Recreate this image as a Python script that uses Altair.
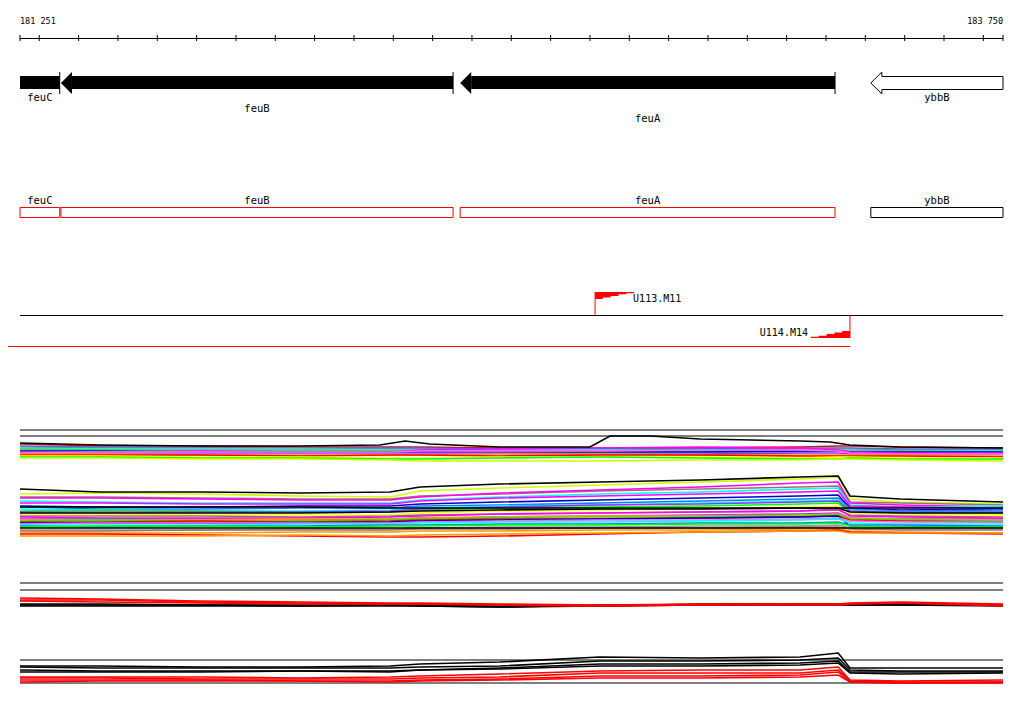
import altair as alt
import pandas as pd

# ---------------- data ----------------
X0, X1 = 181251, 183750
RULER_TEXT = ["181 251", "183 750"]
RULER_POS = [181251, 183750]
TICK_POS = [181251, 181300, 181400, 181500, 181600, 181700, 181800, 181900, 182000,
            182100, 182200, 182300, 182400, 182500, 182600, 182700, 182800, 182900,
            183000, 183100, 183200, 183300, 183400, 183500, 183600, 183700, 183750]

GENE_NAME = ["feuC", "feuB", "feuA", "ybbB"]
GENE_LEFT = [181251, 181355, 182370, 183414]
GENE_RIGHT = [181352, 182352, 183323, 183750]
GENE_HAS_TIP = [False, True, True, True]
GENE_SOLID = [True, True, True, False]
GENE_LABEL_ROW = [0, 1, 2, 0]

PROM_NAME = ["U113.M11", "U114.M14"]
PROM_POS = [182713, 183361]
TRANSCRIPT = [181150, 183361]

# probe positions (bp)
GRID = [181251, 181454, 181709, 181963, 182192, 182268, 182471, 182725,
        182980, 183234, 183331, 183361, 183488, 183750]

# panel 1, upper cluster: leading profile
P1_TOP_X = [181251, 181454, 181709, 181963, 182166, 182230, 182293, 182471, 182700,
            182751, 182853, 182980, 183234, 183310, 183361, 183488, 183750]
P1_TOP_V = [97, 95, 94, 94, 95, 99, 96, 93, 93, 104, 104, 101, 99, 98, 95, 93, 92]

P1_UPPER_V = [
    [96, 94, 94, 93, 93, 93, 92, 92, 92, 93, 94, 94, 93, 92],
    [94, 93, 93, 92, 92, 92, 91, 91, 91, 92, 92, 92, 91, 91],
    [93, 92, 92, 92, 91, 91, 90, 90, 90, 91, 91, 91, 90, 90],
    [92, 91, 91, 91, 90, 90, 90, 90, 89, 89, 90, 90, 89, 89],
    [91, 90, 90, 90, 89, 89, 89, 89, 89, 89, 90, 89, 89, 88],
    [90, 90, 89, 89, 89, 88, 88, 88, 88, 88, 89, 88, 88, 87],
    [89, 89, 88, 88, 88, 88, 88, 88, 88, 89, 89, 88, 88, 88],
    [88, 88, 89, 88, 88, 90, 91, 92, 93, 92, 90, 88, 87, 87],
    [87, 87, 87, 87, 87, 87, 87, 86, 86, 87, 87, 86, 86, 86],
    [87, 88, 88, 88, 88, 89, 89, 89, 90, 90, 89, 87, 86, 86],
    [86, 86, 85, 85, 85, 85, 86, 86, 85, 85, 85, 85, 85, 84],
    [85, 85, 85, 84, 85, 85, 84, 85, 85, 84, 84, 84, 84, 83],
    [84, 84, 83, 83, 82, 82, 83, 83, 83, 82, 83, 83, 82, 82],
    [83, 83, 82, 82, 81, 81, 82, 83, 82, 81, 81, 82, 81, 81],
    [82, 82, 81, 81, 80, 79, 79, 79, 80, 80, 81, 81, 80, 79],
]
P1_LOWER_V = [
    [46, 47, 46, 44, 43, 49, 52, 55, 58, 61, 63, 41, 38, 36],
    [43, 43, 42, 41, 41, 44, 46, 49, 51, 53, 54, 38, 37, 35],
    [42, 42, 41, 40, 40, 43, 47, 50, 53, 57, 58, 37, 35, 33],
    [39, 38, 37, 37, 37, 40, 43, 46, 48, 51, 52, 35, 33, 34],
    [37, 37, 36, 36, 36, 39, 42, 44, 46, 48, 49, 34, 33, 32],
    [34, 33, 33, 34, 34, 36, 38, 40, 42, 44, 45, 32, 30, 31],
    [33, 31, 31, 32, 32, 34, 35, 37, 39, 41, 42, 31, 29, 30],
    [31, 30, 29, 29, 30, 32, 34, 35, 37, 39, 40, 30, 28, 28],
    [29, 30, 29, 28, 28, 30, 32, 33, 34, 36, 37, 28, 27, 27],
    [28, 28, 28, 28, 29, 31, 33, 35, 36, 38, 39, 29, 28, 28],
    [26, 26, 25, 25, 25, 27, 29, 30, 31, 33, 34, 27, 26, 25],
    [24, 24, 24, 23, 24, 25, 26, 27, 28, 29, 30, 25, 24, 23],
    [23, 22, 22, 22, 23, 24, 26, 27, 28, 29, 31, 24, 23, 22],
    [21, 21, 21, 20, 21, 22, 23, 24, 25, 26, 27, 22, 21, 21],
    [20, 20, 20, 21, 21, 22, 23, 24, 24, 25, 26, 22, 21, 20],
    [19, 20, 19, 19, 20, 21, 22, 22, 23, 24, 25, 21, 20, 19],
    [18, 18, 19, 18, 19, 20, 21, 21, 22, 23, 24, 20, 19, 18],
    [17, 17, 17, 17, 18, 19, 20, 21, 22, 23, 24, 14, 13, 13],
    [16, 17, 17, 17, 17, 18, 19, 20, 20, 21, 22, 19, 18, 18],
    [15, 15, 15, 16, 16, 17, 18, 18, 19, 20, 21, 17, 16, 16],
    [14, 13, 14, 14, 15, 15, 16, 16, 17, 17, 18, 15, 15, 14],
    [13, 14, 14, 13, 14, 14, 15, 15, 16, 16, 17, 14, 13, 13],
    [10, 10, 10, 11, 11, 12, 13, 13, 14, 14, 15, 12, 11, 11],
    [9, 9, 10, 10, 10, 11, 11, 12, 12, 13, 13, 11, 10, 10],
    [8, 7, 7, 8, 8, 9, 9, 10, 10, 11, 11, 9, 8, 7],
    [6, 6, 5, 4, 3, 3, 4, 6, 8, 9, 10, 8, 7, 6],
    [4, 4, 4, 5, 4, 5, 6, 7, 8, 9, 9, 7, 7, 7],
]
P1_LOWER_BLACK_V = [
    [51, 48, 48, 47, 48, 53, 56, 58, 60, 63, 64, 44, 41, 38],
    [33, 33, 33, 33, 32, 32, 32, 32, 32, 32, 32, 32, 32, 32],
    [27, 27, 27, 27, 28, 29, 30, 31, 31, 32, 32, 28, 27, 27],
    [12, 12, 12, 12, 12, 12, 12, 12, 12, 12, 12, 12, 12, 12],
]
P1_FRAME = [110, 104]

P2_UPPER_BLACK_V = [
    [89, 89, 88, 88, 88, 88, 87, 87, 89, 89, 89, 89, 89, 88],
    [88, 88, 88, 87, 88, 87, 86, 88, 88, 89, 89, 88, 88, 87],
    [87, 87, 87, 87, 87, 87, 86, 87, 88, 88, 88, 88, 88, 88],
]
P2_UPPER_RED_V = [
    [95, 94, 92, 91, 90, 90, 89, 88, 89, 89, 89, 90, 91, 89],
    [93, 93, 91, 90, 89, 89, 88, 87, 88, 89, 89, 89, 90, 88],
    [92, 91, 90, 89, 89, 89, 88, 87, 88, 88, 88, 89, 90, 87],
]
P2_LOWER_BLACK_V = [
    [27, 27, 26, 26, 27, 29, 31, 36, 35, 36, 40, 25, 25, 25],
    [26, 25, 25, 25, 25, 26, 27, 32, 32, 33, 35, 23, 22, 22],
    [23, 22, 22, 22, 21, 23, 25, 29, 29, 30, 32, 21, 21, 21],
    [21, 21, 21, 22, 22, 23, 24, 27, 27, 28, 30, 20, 19, 20],
]
P2_LOWER_RED_V = [
    [16, 16, 16, 15, 16, 17, 19, 22, 23, 23, 26, 13, 12, 13],
    [15, 15, 14, 14, 14, 15, 16, 20, 20, 20, 23, 12, 11, 11],
    [13, 13, 13, 12, 12, 13, 14, 17, 17, 18, 21, 11, 10, 11],
    [11, 12, 12, 12, 11, 12, 13, 15, 15, 16, 18, 11, 10, 10],
]
P2_FRAME = [110, 103, 33, 10]

# ---------------- styles ----------------
RED, BLK = "#ff0000", "#000000"
P1_UPPER_COL = ["#ff0000", "#0080ff", "#a07070", "#00ffff", "#999999", "#00ff00",
                "#0000cc", "#ff00ff", "#9933ff", "#ff66ff", "#ff9900", "#ff0000",
                "#ffff00", "#00ff00", "#ccff00"]
P1_LOWER_COL = ["#ccff00", "#a07070", "#ff00ff", "#00ffff", "#ff00ff", "#0000cc",
                "#0080ff", "#00ffff", "#00ff00", "#9933ff", "#ffff00", "#a07070",
                "#ff00ff", "#9933ff", "#ff9900", "#00ff00", "#ff0000", "#0000cc",
                "#ff66ff", "#00ffff", "#0080ff", "#00ff00", "#999999", "#a07070",
                "#ff9900", "#ff0000", "#ff9900"]
MONO = "DejaVu Sans Mono"
BP_PER_PX = (X1 - X0) / 983.0
HEAD_BP = round(11 * BP_PER_PX)

XS = alt.Scale(domain=[X0, X1], range=[12, 995], nice=False, zero=False)
S1 = alt.Scale(domain=[0, 110], range=[532, 422], nice=False, zero=False)
S2 = alt.Scale(domain=[0, 110], range=[685, 575], nice=False, zero=False)

def X(f):
    return alt.X(f, type="quantitative", scale=XS, axis=None)

# ---------------- tables ----------------
line_rows = []
counter = [0]

def add_series(panel, layer, color, xs, vals):
    counter[0] += 1
    sid = "s%03d" % counter[0]
    for bp, v in zip(xs, vals):
        line_rows.append({"panel": panel, "layer": layer, "sid": sid,
                          "color": color, "bp": bp, "v": v})

for c, vals in zip(P1_UPPER_COL, P1_UPPER_V):
    add_series(1, 0, c, GRID, vals)
for c, vals in zip(P1_LOWER_COL, P1_LOWER_V):
    add_series(1, 0, c, GRID, vals)
add_series(1, 1, BLK, P1_TOP_X, P1_TOP_V)
for vals in P1_LOWER_BLACK_V:
    add_series(1, 1, BLK, GRID, vals)
for vals in P2_UPPER_BLACK_V:
    add_series(2, 0, BLK, GRID, vals)
for vals in P2_UPPER_RED_V:
    add_series(2, 1, RED, GRID, vals)
for vals in P2_LOWER_BLACK_V:
    add_series(2, 1, BLK, GRID, vals)
for vals in P2_LOWER_RED_V:
    add_series(2, 1, RED, GRID, vals)
lines_df = pd.DataFrame(line_rows)

genes = pd.DataFrame({
    "name": GENE_NAME, "left": GENE_LEFT, "right": GENE_RIGHT,
    "tip": GENE_HAS_TIP, "solid": GENE_SOLID, "row": GENE_LABEL_ROW,
})
genes["mid"] = (genes["left"] + genes["right"]) / 2
genes["body"] = [l + HEAD_BP if t else l for l, t in zip(genes["left"], genes["tip"])]
genes["box"] = ["red", "red", "red", "black"]
solid = genes[genes["solid"]]
solid_tip = genes[genes["solid"] & genes["tip"]]
open_g = genes[~genes["solid"]]

layers = []

# ruler
span = pd.DataFrame({"a": [X0], "b": [X1]})
layers.append(alt.Chart(span).mark_rule(color=BLK, strokeWidth=1).encode(
    x=X("a"), x2="b", y=alt.value(30.5)))
layers.append(alt.Chart(pd.DataFrame({"t": TICK_POS})).mark_rule(color=BLK, strokeWidth=1).encode(
    x=X("t"), y=alt.value(27), y2=alt.value(33)))
rl = pd.DataFrame({"pos": RULER_POS, "label": RULER_TEXT})
layers.append(alt.Chart(rl.iloc[[0]]).mark_text(font=MONO, fontSize=8.5, align="left",
              baseline="alphabetic", color=BLK).encode(x=X("pos"), y=alt.value(16), text="label:N"))
layers.append(alt.Chart(rl.iloc[[1]]).mark_text(font=MONO, fontSize=8.5, align="right",
              baseline="alphabetic", color=BLK).encode(x=X("pos"), y=alt.value(16), text="label:N"))

# gene arrows
layers.append(alt.Chart(solid).mark_rect(color=BLK).encode(
    x=X("body"), x2="right", y=alt.value(68), y2=alt.value(81)))
layers.append(alt.Chart(solid).mark_rule(color=BLK, strokeWidth=1).encode(
    x=X("right"), y=alt.value(64), y2=alt.value(86)))
layers.append(alt.Chart(solid_tip).mark_point(
    shape="M0,0 L1,-1 L1,1 Z", size=484, filled=True, color=BLK, opacity=1, strokeWidth=0).encode(
    x=X("left"), y=alt.value(75)))
layers.append(alt.Chart(open_g).mark_point(
    shape="M1,-0.6 L1,-1 L0,0 L1,1 L1,0.6", size=484, filled=False, color=BLK,
    opacity=1, strokeWidth=1).encode(x=X("left"), y=alt.value(75)))
for yy in (68.5, 81.5):
    layers.append(alt.Chart(open_g).mark_rule(color=BLK, strokeWidth=1).encode(
        x=X("body"), x2="right", y=alt.value(yy)))
layers.append(alt.Chart(open_g).mark_rule(color=BLK, strokeWidth=1).encode(
    x=X("right"), y=alt.value(68.5), y2=alt.value(81.5)))
layers.append(alt.Chart(genes).mark_text(font=MONO, fontSize=10.5, baseline="alphabetic",
              color=BLK).encode(
    x=X("mid"),
    y=alt.Y("row:Q", scale=alt.Scale(domain=[0, 2], range=[93, 114], nice=False, zero=False), axis=None),
    text="name:N"))

# gene boxes
layers.append(alt.Chart(genes).mark_rect(fillOpacity=0, strokeWidth=1).encode(
    x=X("left"), x2="right", y=alt.value(199.5), y2=alt.value(209.5),
    stroke=alt.Color("box:N", scale=None)))
layers.append(alt.Chart(genes).mark_text(font=MONO, fontSize=10.5, baseline="alphabetic",
              color=BLK).encode(x=X("mid"), y=alt.value(196), text="name:N"))

# promoters / terminators
layers.append(alt.Chart(span).mark_rule(color=BLK, strokeWidth=1).encode(
    x=X("a"), x2="b", y=alt.value(307.5)))
tr = pd.DataFrame({"a": [TRANSCRIPT[0]], "b": [TRANSCRIPT[1]]})
layers.append(alt.Chart(tr).mark_rule(color=RED, strokeWidth=1).encode(
    x=X("a"), x2="b", y=alt.value(338.5)))
prom = pd.DataFrame({"pos": PROM_POS, "name": PROM_NAME})
p_fwd, p_rev = prom.iloc[[0]], prom.iloc[[1]]
layers.append(alt.Chart(p_fwd).mark_rule(color=RED, strokeWidth=1).encode(
    x=X("pos"), y=alt.value(284), y2=alt.value(307)))
layers.append(alt.Chart(p_rev).mark_rule(color=RED, strokeWidth=1).encode(
    x=X("pos"), y=alt.value(307), y2=alt.value(330)))
layers.append(alt.Chart(p_fwd).mark_point(
    shape="M0,0 L1,0 L1,0.03 L0.8,0.03 L0.8,0.06 L0.6,0.06 L0.6,0.1 L0.4,0.1 L0.4,0.14 L0.2,0.14 L0.2,0.18 L0,0.18 Z",
    size=6084, filled=True, color=RED, opacity=1, strokeWidth=0).encode(
    x=X("pos"), y=alt.value(284)))
layers.append(alt.Chart(p_rev).mark_point(
    shape="M0,0 L-1,0 L-1,-0.03 L-0.8,-0.03 L-0.8,-0.06 L-0.6,-0.06 L-0.6,-0.1 L-0.4,-0.1 L-0.4,-0.14 L-0.2,-0.14 L-0.2,-0.18 L0,-0.18 Z",
    size=6084, filled=True, color=RED, opacity=1, strokeWidth=0).encode(
    x=X("pos"), y=alt.value(330)))
layers.append(alt.Chart(p_fwd).mark_text(font=MONO, fontSize=10, align="left", dx=38,
              baseline="alphabetic", color=BLK).encode(x=X("pos"), y=alt.value(294), text="name:N"))
layers.append(alt.Chart(p_rev).mark_text(font=MONO, fontSize=10, align="right", dx=-42,
              baseline="alphabetic", color=BLK).encode(x=X("pos"), y=alt.value(328), text="name:N"))

# expression panels
for panel, scale, frames in ((1, S1, P1_FRAME), (2, S2, P2_FRAME)):
    fr = pd.DataFrame({"v": frames, "a": X0, "b": X1})
    layers.append(alt.Chart(fr).mark_rule(color=BLK, strokeWidth=1).encode(
        x=X("a"), x2="b", y=alt.Y("v:Q", scale=scale, axis=None)))
    for lay in (0, 1):
        sub = lines_df[(lines_df["panel"] == panel) & (lines_df["layer"] == lay)]
        layers.append(alt.Chart(sub).mark_line(strokeWidth=1.6, interpolate="linear").encode(
            x=X("bp"), y=alt.Y("v:Q", scale=scale, axis=None),
            color=alt.Color("color:N", scale=None), detail="sid:N"))

chart = alt.layer(*layers).resolve_scale(y="independent").properties(
    width=1008, height=698, padding=0, autosize="none", background="white"
).configure_view(strokeWidth=0)

chart.save("out.html", embed_options={"renderer": "svg", "actions": False})
